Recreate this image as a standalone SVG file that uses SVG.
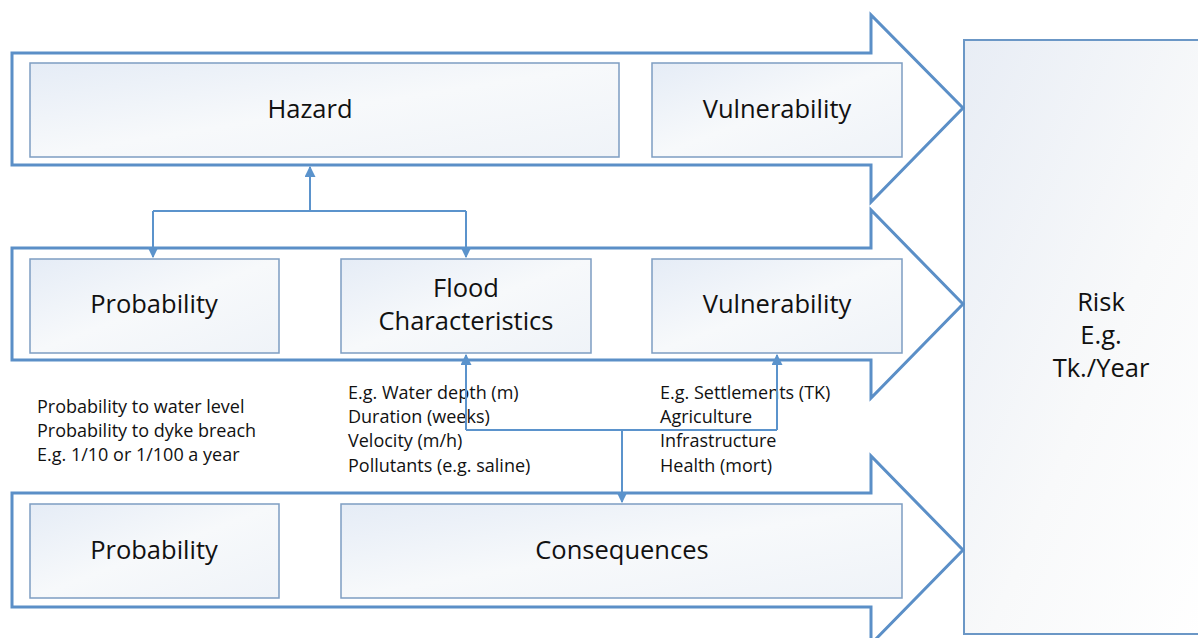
<svg xmlns="http://www.w3.org/2000/svg" width="1198" height="638" viewBox="0 0 1198 638">
  <defs>
    <linearGradient id="boxFill" x1="0" y1="0" x2="1" y2="1">
      <stop offset="0" stop-color="#e5ecf6"/>
      <stop offset="0.5" stop-color="#f7f9fb"/>
      <stop offset="1" stop-color="#eff3f8"/>
    </linearGradient>
    <linearGradient id="riskFill" x1="0" y1="0" x2="1" y2="1">
      <stop offset="0" stop-color="#e8edf5"/>
      <stop offset="0.55" stop-color="#f8f9fa"/>
      <stop offset="1" stop-color="#ffffff"/>
    </linearGradient>
    <marker id="tip" viewBox="0 0 10 10" refX="9" refY="5" markerWidth="5.5" markerHeight="5.5" orient="auto-start-reverse">
      <path d="M0,0 L10,5 L0,10 Z" fill="#5b93cc"/>
    </marker>
    <style>
      .band { fill: #ffffff; stroke: #5b8fc7; stroke-width: 3; stroke-linejoin: miter; }
      .box { fill: url(#boxFill); stroke: #7d9dc2; stroke-width: 1.5; }
      .risk { fill: url(#riskFill); stroke: #6b97c6; stroke-width: 2; }
      .label { font-family: "Open Sans", "Noto Sans", "Liberation Sans", sans-serif; font-size: 25.5px; fill: #111111; text-anchor: middle; }
      .note { font-family: "Open Sans", "Noto Sans", "Liberation Sans", sans-serif; font-size: 18px; fill: #111111; }
      .link { fill: none; stroke: #5b93cc; stroke-width: 2; }
    </style>
  </defs>

  <rect width="1198" height="638" fill="#ffffff"/>

  <!-- Risk result -->
  <g id="risk">
    <rect class="risk" x="964" y="40" width="250" height="594"/>
    <text class="label" x="1101" y="311">Risk</text>
    <text class="label" x="1101" y="344">E.g.</text>
    <text class="label" x="1101" y="377">Tk./Year</text>
  </g>

  <!-- Band arrows -->
  <g id="band-top">
    <path class="band" d="M12,53 H871 V15 L963,108 L871,202 V165 H12 Z"/>
  </g>
  <g id="band-middle">
    <path class="band" d="M12,248 H871 V210 L963,304 L871,398 V360 H12 Z"/>
  </g>
  <g id="band-bottom">
    <path class="band" d="M12,493 H871 V456 L963,550 L871,644 V607 H12 Z"/>
  </g>

  <!-- Boxes -->
  <g id="hazard">
    <rect class="box" x="30" y="63" width="589" height="94"/>
    <text class="label" x="310" y="118">Hazard</text>
  </g>
  <g id="vulnerability-top">
    <rect class="box" x="652" y="63" width="250" height="94"/>
    <text class="label" x="777" y="118">Vulnerability</text>
  </g>
  <g id="probability-middle">
    <rect class="box" x="30" y="259" width="249" height="94"/>
    <text class="label" x="154" y="313">Probability</text>
  </g>
  <g id="flood-characteristics">
    <rect class="box" x="341" y="259" width="250" height="94"/>
    <text class="label" x="466" y="297">Flood</text>
    <text class="label" x="466" y="330">Characteristics</text>
  </g>
  <g id="vulnerability-middle">
    <rect class="box" x="652" y="259" width="250" height="94"/>
    <text class="label" x="777" y="313">Vulnerability</text>
  </g>
  <g id="probability-bottom">
    <rect class="box" x="30" y="504" width="249" height="94"/>
    <text class="label" x="154" y="559">Probability</text>
  </g>
  <g id="consequences">
    <rect class="box" x="341" y="504" width="561" height="94"/>
    <text class="label" x="622" y="559">Consequences</text>
  </g>

  <!-- Notes -->
  <g id="notes-probability">
    <text class="note" x="37" y="413">Probability to water level</text>
    <text class="note" x="37" y="437">Probability to dyke breach</text>
    <text class="note" x="37" y="461">E.g. 1/10 or 1/100 a year</text>
  </g>
  <g id="notes-flood">
    <text class="note" x="348" y="399">E.g. Water depth (m)</text>
    <text class="note" x="348" y="423">Duration (weeks)</text>
    <text class="note" x="348" y="447">Velocity (m/h)</text>
    <text class="note" x="348" y="472">Pollutants (e.g. saline)</text>
  </g>
  <g id="notes-vulnerability">
    <text class="note" x="660" y="399">E.g. Settlements (TK)</text>
    <text class="note" x="660" y="423">Agriculture</text>
    <text class="note" x="660" y="447">Infrastructure</text>
    <text class="note" x="660" y="472">Health (mort)</text>
  </g>

  <!-- Connectors -->
  <g id="connectors">
    <path class="link" d="M310,211 V167" marker-end="url(#tip)"/>
    <path class="link" d="M153,211 H466"/>
    <path class="link" d="M153,211 V257" marker-end="url(#tip)"/>
    <path class="link" d="M466,211 V257" marker-end="url(#tip)"/>
    <path class="link" d="M466,430 H777"/>
    <path class="link" d="M466,430 V355" marker-end="url(#tip)"/>
    <path class="link" d="M777,430 V355" marker-end="url(#tip)"/>
    <path class="link" d="M622,430 V502" marker-end="url(#tip)"/>
  </g>
</svg>
